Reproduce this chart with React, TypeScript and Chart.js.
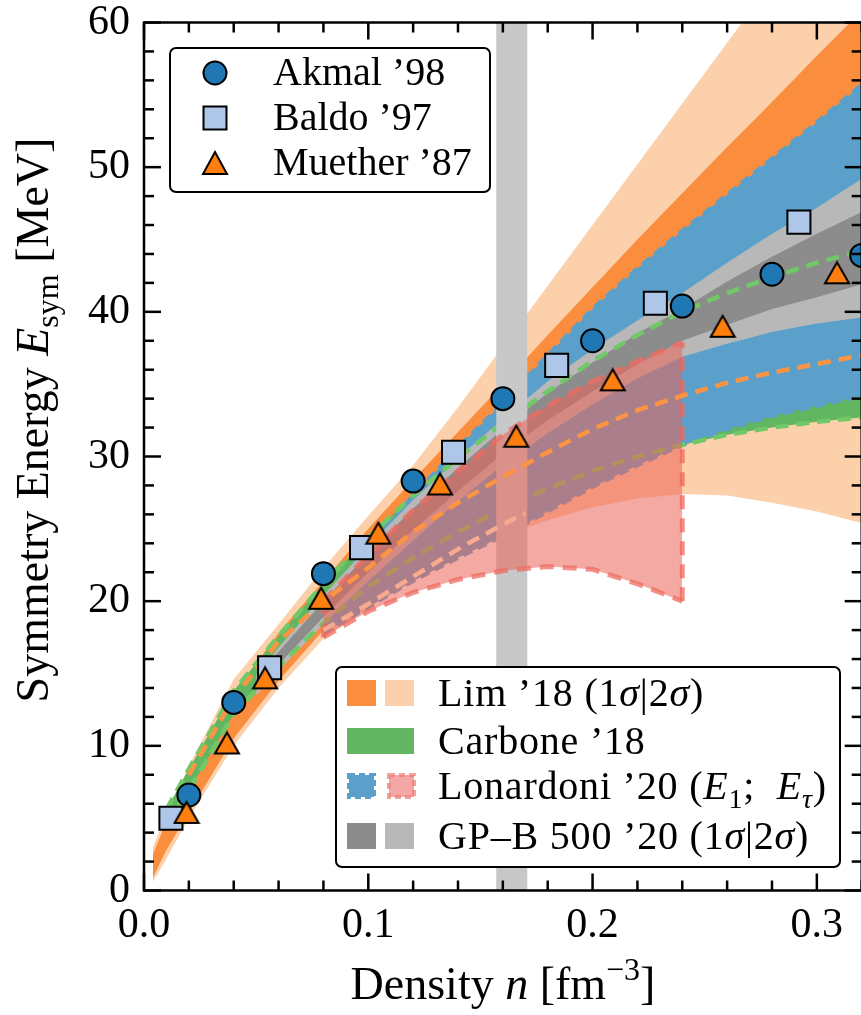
import React, { useEffect, useRef } from "react";
import { Chart, registerables } from "chart.js";

Chart.register(...registerables);

const SERIF = "'Liberation Serif', 'Times New Roman', serif";

// ---- Lim '18 (chiral EFT + Bayesian), 1σ and 2σ envelopes ----
const limDensity = [0.004, 0.01, 0.02, 0.04, 0.06, 0.08, 0.1, 0.12, 0.14, 0.16, 0.18, 0.2, 0.22, 0.24, 0.26, 0.28, 0.3, 0.32];
const lim2Upper = [3.0, 5.3, 8.6, 14.6, 18.4, 22.3, 25.9, 29.4, 33.4, 37.6, 41.8, 46.0, 50.2, 54.4, 58.6, 62.8, 67.0, 71.2];
const lim2Lower = [0.6, 2.2, 5.0, 10.0, 14.0, 17.4, 19.6, 21.5, 23.1, 24.5, 25.6, 26.5, 27.1, 27.4, 27.3, 26.8, 26.2, 25.4];
const lim1Upper = [2.5, 4.8, 7.8, 13.6, 17.8, 21.4, 25.0, 28.4, 31.7, 35.0, 38.4, 41.7, 45.0, 48.2, 51.4, 54.5, 57.7, 60.8];
const lim1Lower = [0.9, 2.8, 5.4, 10.5, 14.5, 18.0, 21.0, 23.6, 25.9, 28.0, 29.8, 31.4, 32.8, 34.0, 35.0, 35.9, 36.7, 37.4];
const limDashDensity = [0.02, 0.04, 0.06, 0.08, 0.1, 0.12, 0.14, 0.16, 0.18, 0.2, 0.22, 0.24, 0.26, 0.28, 0.3, 0.32];
const limDashValue = [8.0, 13.3, 17.2, 20.0, 22.3, 24.8, 26.8, 28.6, 30.3, 31.9, 33.2, 34.2, 35.1, 35.8, 36.4, 37.0];

// ---- Carbone '18 band ----
const carboneDensity = [0.01, 0.02, 0.04, 0.06, 0.08, 0.1, 0.12, 0.14, 0.16, 0.18, 0.2, 0.22, 0.24, 0.26, 0.28, 0.3, 0.32];
const carboneUpper = [5.6, 8.4, 13.8, 17.6, 21.2, 24.4, 27.3, 29.9, 32.3, 34.5, 36.6, 38.4, 40.0, 41.3, 42.4, 43.4, 44.2];
const carboneLower = [4.6, 6.9, 12.2, 15.5, 18.5, 21.0, 23.0, 24.8, 26.4, 27.8, 29.0, 30.0, 30.8, 31.5, 32.0, 32.4, 32.7];

// ---- Lonardoni '20: E1 band (blue) and E_tau band (red) ----
const lonE1Density = [0.08, 0.1, 0.12, 0.14, 0.16, 0.18, 0.2, 0.22, 0.24, 0.26, 0.28, 0.3, 0.32];
const lonE1Upper = [20.0, 23.8, 27.3, 30.6, 33.7, 37.0, 40.2, 43.0, 45.6, 48.1, 50.6, 53.1, 55.7];
const lonE1Lower = [17.8, 19.6, 21.4, 23.0, 24.5, 26.2, 27.9, 29.4, 30.8, 31.9, 32.8, 33.5, 34.2];
const lonTauDensity = [0.08, 0.1, 0.12, 0.14, 0.16, 0.18, 0.2, 0.22, 0.24];
const lonTauUpper = [20.0, 23.2, 26.3, 29.0, 31.5, 33.5, 35.2, 36.6, 37.9];
const lonTauLower = [17.5, 19.3, 20.6, 21.5, 22.1, 22.4, 22.2, 21.2, 20.0];
const lonTauMidDensity = [0.08, 0.1, 0.12, 0.14, 0.16, 0.17];
const lonTauMid = [18.0, 19.8, 21.7, 23.6, 25.3, 26.1];

// ---- GP-B 500 '20, 1σ and 2σ ----
const gpbDensity = [0.05, 0.06, 0.08, 0.1, 0.12, 0.14, 0.16, 0.18, 0.2, 0.22, 0.24, 0.26, 0.28, 0.3, 0.32];
const gpb2Upper = [14.9, 16.8, 20.4, 23.8, 27.0, 29.9, 32.6, 35.2, 37.4, 39.4, 41.3, 43.4, 45.4, 47.2, 49.2];
const gpb2Lower = [13.5, 15.2, 18.4, 21.4, 24.2, 26.9, 29.4, 31.6, 33.6, 35.4, 36.9, 37.8, 38.6, 39.2, 39.6];
const gpb1Upper = [14.6, 16.5, 20.0, 23.3, 26.4, 29.2, 31.9, 34.4, 36.5, 38.5, 40.2, 42.1, 43.8, 45.4, 46.9];
const gpb1Lower = [13.8, 15.6, 18.9, 22.0, 24.9, 27.6, 30.2, 32.5, 34.5, 36.4, 38.0, 39.1, 40.2, 41.0, 41.9];

// ---- saturation density window ----
const saturationRange = [0.157, 0.171];

// ---- microscopic calculations ----
const akmalDensity = [0.02, 0.04, 0.08, 0.12, 0.16, 0.2, 0.24, 0.28, 0.32];
const akmalEsym = [6.6, 13.0, 21.9, 28.3, 34.0, 38.0, 40.4, 42.6, 43.9];
const baldoDensity = [0.012, 0.056, 0.097, 0.138, 0.184, 0.228, 0.292];
const baldoEsym = [5.0, 15.4, 23.7, 30.3, 36.3, 40.6, 46.2];
const muetherDensity = [0.019, 0.037, 0.054, 0.079, 0.1045, 0.132, 0.166, 0.209, 0.258, 0.309];
const muetherEsym = [5.4, 10.2, 14.7, 20.2, 24.7, 28.1, 31.4, 35.3, 39.0, 42.7];

const COLORS = {
  peach: "rgb(253,208,172)",
  orange: "rgb(250,142,62)",
  green: "rgb(98,182,98)",
  greenDash: "rgb(112,200,102)",
  blue: "rgb(90,160,202)",
  red: "rgba(236,98,88,0.55)",
  redEdge: "rgba(238,108,98,0.75)",
  gray2: "rgb(184,184,184)",
  gray1: "rgb(140,140,140)",
  sat: "rgb(200,200,200)",
  orangeDash: "rgb(252,148,68)",
  salmonDash: "rgb(250,170,140)",
  akmal: "rgb(31,119,180)",
  baldo: "rgb(174,199,232)",
  muether: "rgb(255,127,14)",
};

const pts = (xs: number[], ys: number[]) => xs.map((x, i) => ({ x, y: ys[i] }));

function triangleImage(w: number, h: number, fill: string) {
  const c = document.createElement("canvas");
  const pad = 2;
  c.width = Math.round(w + 2 * pad);
  c.height = Math.round(h + 2 * pad);
  const g = c.getContext("2d")!;
  g.beginPath();
  g.moveTo(c.width / 2, pad);
  g.lineTo(c.width - pad, c.height - pad);
  g.lineTo(pad, c.height - pad);
  g.closePath();
  g.fillStyle = fill;
  g.fill();
  g.lineWidth = 2;
  g.lineJoin = "miter";
  g.strokeStyle = "#000";
  g.stroke();
  return c;
}

function band(xs: number[], lo: number[], hi: number[], color: string, order: number, edge?: any) {
  const line = edge
    ? { borderWidth: edge.width, borderColor: edge.color, borderDash: edge.dash }
    : { borderWidth: 0, borderColor: "transparent" };
  return [
    { data: pts(xs, lo), pointRadius: 0, fill: false, order, tension: 0, ...line },
    { data: pts(xs, hi), pointRadius: 0, fill: "-1", backgroundColor: color, order, tension: 0, ...line },
  ];
}

function dashed(xs: number[], ys: number[], color: string, order: number, width = 4.5, dash = [13, 8]) {
  return { data: pts(xs, ys), pointRadius: 0, fill: false, borderColor: color, borderWidth: width, borderDash: dash, order, tension: 0 };
}

type Piece = { t: string; it?: boolean; sub?: boolean; sup?: boolean };

function drawRich(ctx: CanvasRenderingContext2D, pieces: Piece[], x: number, y: number, size: number, align: "left" | "center", spacing = 0) {
  (ctx as any).letterSpacing = `${spacing}px`;
  const fonts = pieces.map((p) => `${p.it ? "italic " : ""}${p.sub || p.sup ? Math.round(size * 0.7) : size}px ${SERIF}`);
  const widths = pieces.map((p, i) => {
    ctx.font = fonts[i];
    return ctx.measureText(p.t).width;
  });
  const total = widths.reduce((a, b) => a + b, 0);
  let cx = align === "center" ? x - total / 2 : x;
  ctx.textAlign = "left";
  ctx.textBaseline = "alphabetic";
  pieces.forEach((p, i) => {
    ctx.font = fonts[i];
    const dy = p.sub ? size * 0.22 : p.sup ? -size * 0.42 : 0;
    ctx.fillText(p.t, cx, y + dy);
    cx += widths[i];
  });
  (ctx as any).letterSpacing = "0px";
}

const decorations = {
  id: "decorations",
  afterDraw(chart: any) {
    const { ctx, chartArea: a } = chart;
    const xs = chart.scales.x;
    const ys = chart.scales.y;
    ctx.save();
    ctx.fillStyle = "#000";
    ctx.strokeStyle = "#000";
    ctx.lineWidth = 2.5;
    ctx.setLineDash([]);
    ctx.strokeRect(a.left, a.top, a.right - a.left, a.bottom - a.top);
    const seg = (x1: number, y1: number, x2: number, y2: number) => {
      ctx.beginPath();
      ctx.moveTo(x1, y1);
      ctx.lineTo(x2, y2);
      ctx.stroke();
    };
    for (let i = 0; i <= 16; i++) {
      const px = xs.getPixelForValue(i * 0.02);
      const L = i % 5 === 0 ? 17 : 10;
      seg(px, a.bottom, px, a.bottom - L);
      seg(px, a.top, px, a.top + L);
    }
    for (let i = 0; i <= 30; i++) {
      const py = ys.getPixelForValue(i * 2);
      const L = i % 5 === 0 ? 17 : 10;
      seg(a.left, py, a.left + L, py);
      seg(a.right, py, a.right - L, py);
    }

    // axis titles
    drawRich(ctx, [{ t: "Density " }, { t: "n", it: true }, { t: " [fm" }, { t: "−3", sup: true }, { t: "]" }], 503, 999, 46, "center");
    ctx.save();
    ctx.translate(48, 420);
    ctx.rotate(-Math.PI / 2);
    drawRich(ctx, [{ t: "Symmetry Energy " }, { t: "E", it: true }, { t: "sym", sub: true }, { t: " [MeV]" }], 0, 0, 46, "center");
    ctx.restore();

    // legend of calculations
    ctx.lineWidth = 2;
    ctx.fillStyle = "#fff";
    ctx.beginPath();
    ctx.roundRect(170, 48, 320, 144, 6);
    ctx.fill();
    ctx.stroke();
    const rows1 = [73, 118, 163];
    const names1 = ["Akmal ’98", "Baldo ’97", "Muether ’87"];
    ctx.beginPath();
    ctx.arc(215, rows1[0], 11.5, 0, Math.PI * 2);
    ctx.fillStyle = COLORS.akmal;
    ctx.fill();
    ctx.stroke();
    ctx.fillStyle = COLORS.baldo;
    ctx.fillRect(203.5, rows1[1] - 11.5, 23, 23);
    ctx.strokeRect(203.5, rows1[1] - 11.5, 23, 23);
    ctx.beginPath();
    ctx.moveTo(215, rows1[2] - 11);
    ctx.lineTo(227, rows1[2] + 11);
    ctx.lineTo(203, rows1[2] + 11);
    ctx.closePath();
    ctx.fillStyle = COLORS.muether;
    ctx.fill();
    ctx.stroke();
    ctx.fillStyle = "#000";
    names1.forEach((n, i) => drawRich(ctx, [{ t: n }], 273, rows1[i] + 12, 40, "left"));

    // legend of bands
    ctx.fillStyle = "#fff";
    ctx.beginPath();
    ctx.roundRect(336, 667, 504, 200, 6);
    ctx.fill();
    ctx.stroke();
    const rows2 = [693, 741, 786, 836];
    const ph = 26;
    ctx.fillStyle = COLORS.orange;
    ctx.fillRect(347, rows2[0] - ph / 2, 29, ph);
    ctx.fillStyle = COLORS.peach;
    ctx.fillRect(385, rows2[0] - ph / 2, 29, ph);
    ctx.fillStyle = COLORS.green;
    ctx.fillRect(347, rows2[1] - ph / 2, 67, ph);
    ctx.save();
    ctx.setLineDash([6, 4]);
    ctx.lineWidth = 4;
    ctx.fillStyle = COLORS.blue;
    ctx.strokeStyle = COLORS.blue;
    ctx.fillRect(349, rows2[2] - 11, 25, 22);
    ctx.strokeRect(349, rows2[2] - 11, 25, 22);
    ctx.fillStyle = "rgba(240,130,125,0.7)";
    ctx.strokeStyle = "rgba(240,120,115,0.7)";
    ctx.fillRect(389, rows2[2] - 11, 25, 22);
    ctx.strokeRect(389, rows2[2] - 11, 25, 22);
    ctx.restore();
    ctx.fillStyle = COLORS.gray1;
    ctx.fillRect(347, rows2[3] - ph / 2, 29, ph);
    ctx.fillStyle = COLORS.gray2;
    ctx.fillRect(385, rows2[3] - ph / 2, 29, ph);
    ctx.fillStyle = "#000";
    const tx = 438;
    const fs = 40;
    const sp = 0.8;
    drawRich(ctx, [{ t: "Lim ’18 (1" }, { t: "σ", it: true }, { t: "|2" }, { t: "σ", it: true }, { t: ")" }], tx, rows2[0] + 13, fs, "left", sp);
    drawRich(ctx, [{ t: "Carbone ’18" }], tx, rows2[1] + 13, fs, "left", sp);
    drawRich(ctx, [{ t: "Lonardoni ’20 (" }, { t: "E", it: true }, { t: "1", sub: true }, { t: ";  " }, { t: "E", it: true }, { t: "τ", it: true, sub: true }, { t: ")" }], tx, rows2[2] + 13, fs, "left", sp);
    drawRich(ctx, [{ t: "GP–B 500 ’20 (1" }, { t: "σ", it: true }, { t: "|2" }, { t: "σ", it: true }, { t: ")" }], tx, rows2[3] + 13, fs, "left", sp);
    ctx.restore();
  },
};

export default function App() {
  const ref = useRef<HTMLCanvasElement | null>(null);

  useEffect(() => {
    const tri = triangleImage(24, 21, COLORS.muether);
    const datasets: any[] = [
      // saturation density window, filled from the top of the frame down
      { data: pts(saturationRange, [60, 60]), pointRadius: 0, borderWidth: 0, borderColor: "transparent", fill: "start", backgroundColor: COLORS.sat, order: 38 },
      ...band(limDensity, lim2Lower, lim2Upper, COLORS.peach, 90),
      ...band(limDensity, lim1Lower, lim1Upper, COLORS.orange, 80),
      ...band(carboneDensity, carboneLower, carboneUpper, COLORS.green, 70),
      ...band(lonE1Density, lonE1Lower, lonE1Upper, COLORS.blue, 60, { width: 4, color: COLORS.blue, dash: [10, 6] }),
      ...band(gpbDensity, gpb2Lower, gpb2Upper, COLORS.gray2, 50),
      ...band(gpbDensity, gpb1Lower, gpb1Upper, COLORS.gray1, 45),
      dashed(carboneDensity, carboneUpper, COLORS.greenDash, 40),
      dashed(carboneDensity, carboneLower, COLORS.greenDash, 40),
      ...band(lonTauDensity, lonTauLower, lonTauUpper, COLORS.red, 30, { width: 5, color: COLORS.redEdge, dash: [14, 9] }),
      dashed([lonTauDensity[0], lonTauDensity[0]], [lonTauLower[0], lonTauUpper[0]], COLORS.redEdge, 30, 5, [14, 9]),
      dashed(
        [lonTauDensity[lonTauDensity.length - 1], lonTauDensity[lonTauDensity.length - 1]],
        [lonTauLower[lonTauLower.length - 1], lonTauUpper[lonTauUpper.length - 1]],
        COLORS.redEdge, 30, 5, [14, 9]
      ),
      dashed(limDashDensity, limDashValue, COLORS.orangeDash, 20),
      dashed(lonTauMidDensity, lonTauMid, COLORS.salmonDash, 15),
      { data: pts(baldoDensity, baldoEsym), showLine: false, pointStyle: "rect", pointRadius: 16.3, backgroundColor: COLORS.baldo, borderColor: "#000", borderWidth: 2, order: 3 },
      { data: pts(akmalDensity, akmalEsym), showLine: false, pointStyle: "circle", pointRadius: 11.5, backgroundColor: COLORS.akmal, borderColor: "#000", borderWidth: 2, order: 2 },
      { data: pts(muetherDensity, muetherEsym), showLine: false, pointStyle: tri, pointRadius: 12, backgroundColor: COLORS.muether, borderColor: "#000", borderWidth: 2, order: 1 },
    ];

    const chart = new Chart(ref.current!, {
      type: "line",
      data: { datasets },
      options: {
        animation: false,
        responsive: false,
        maintainAspectRatio: false,
        devicePixelRatio: 1,
        events: [],
        layout: { padding: { left: 0, right: 13.8, top: 22.5, bottom: 0 } },
        plugins: { legend: { display: false }, tooltip: { enabled: false } },
        scales: {
          x: {
            type: "linear",
            min: 0,
            max: 0.32,
            grid: { display: false, drawTicks: false },
            border: { display: false },
            ticks: {
              stepSize: 0.1,
              includeBounds: false,
              autoSkip: false,
              maxRotation: 0,
              padding: 10,
              color: "#000",
              font: { family: SERIF, size: 42 },
              callback: (v: any) => Number(v).toFixed(1),
            },
            afterFit: (s: any) => {
              s.height = 124.5;
              s.paddingLeft = 0;
              s.paddingRight = 0;
            },
          },
          y: {
            min: 0,
            max: 60,
            grid: { display: false, drawTicks: false },
            border: { display: false },
            ticks: {
              stepSize: 10,
              autoSkip: false,
              padding: 14,
              color: "#000",
              font: { family: SERIF, size: 42 },
              callback: (v: any) => String(Math.round(Number(v))),
            },
            afterFit: (s: any) => {
              s.width = 144;
              s.paddingTop = 0;
              s.paddingBottom = 0;
            },
          },
        },
      },
      plugins: [decorations],
    });
    return () => chart.destroy();
  }, []);

  return (
    <div style={{ position: "absolute", left: 0, top: 0, width: 861, height: 1015, overflow: "hidden", background: "#fff" }}>
      <canvas ref={ref} width={880} height={1015} style={{ display: "block", width: 880, height: 1015 }} />
    </div>
  );
}
